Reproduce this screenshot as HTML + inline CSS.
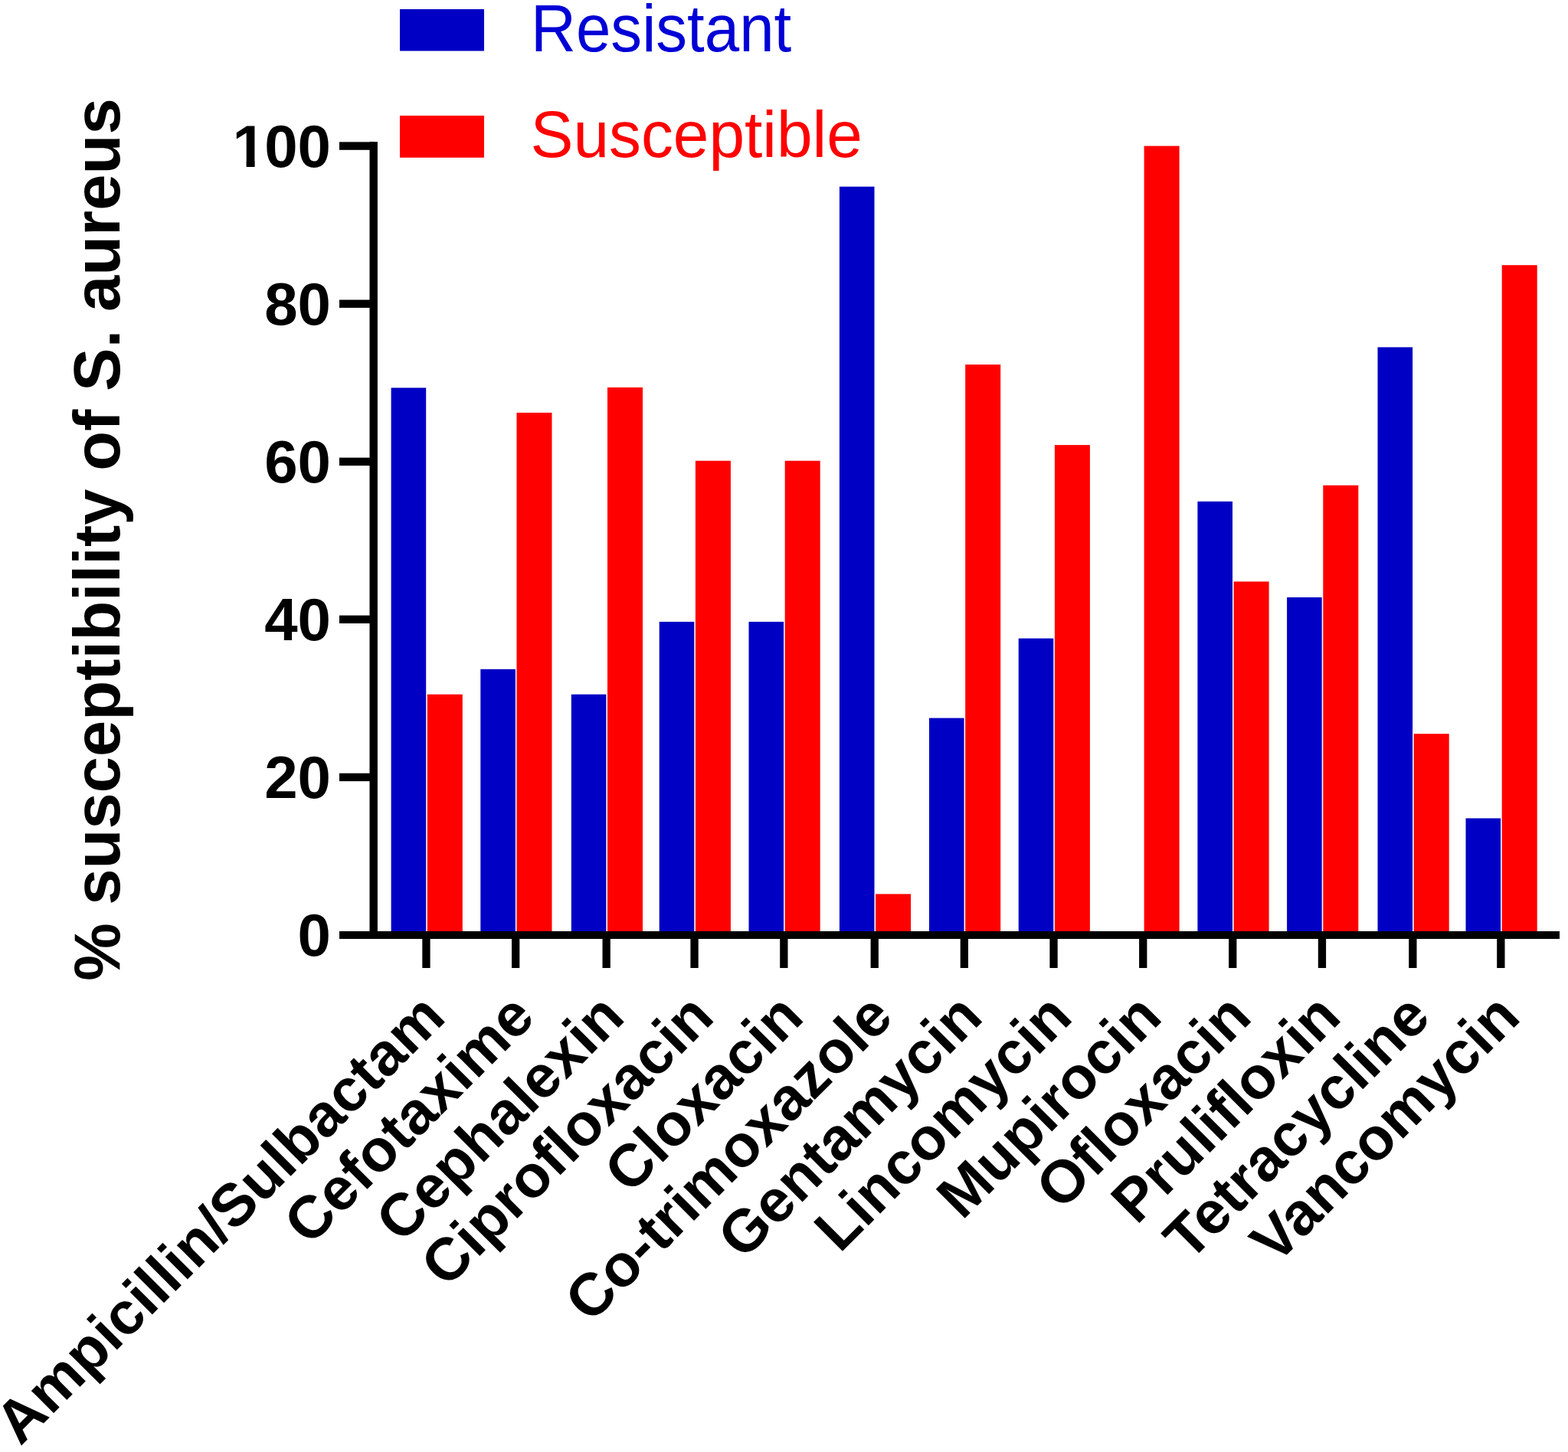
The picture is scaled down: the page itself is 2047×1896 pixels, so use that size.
<!DOCTYPE html>
<html><head><meta charset="utf-8"><style>
html,body{margin:0;padding:0;background:#fff;}
body{width:2047px;height:1896px;overflow:hidden;}
svg{display:block;}
text{font-family:"Liberation Sans",Arial,sans-serif;}
.b{font-weight:bold;}
</style></head><body>
<svg width="2047" height="1896" viewBox="0 0 2047 1896">
<rect width="2047" height="1896" fill="#fff"/>
<rect x="522" y="12" width="110" height="54.5" fill="#0000C4"/>
<rect x="522" y="151" width="110" height="54.8" fill="#FF0000"/>
<text x="693" y="66.6" font-size="86.5" textLength="340.2" lengthAdjust="spacingAndGlyphs" fill="#0000D6">Resistant</text>
<text x="692.5" y="205.4" font-size="86" textLength="433.3" lengthAdjust="spacingAndGlyphs" fill="#FF0000">Susceptible</text>
<rect x="510.6" y="506.4" width="45.6" height="710.6" fill="#0000C4"/>
<rect x="557.8" y="906.7" width="46.0" height="310.3" fill="#FF0000"/>
<rect x="627.3" y="873.8" width="45.6" height="343.2" fill="#0000C4"/>
<rect x="674.5" y="538.9" width="46.0" height="678.1" fill="#FF0000"/>
<rect x="745.8" y="906.7" width="45.6" height="310.3" fill="#0000C4"/>
<rect x="793.0" y="505.9" width="46.0" height="711.1" fill="#FF0000"/>
<rect x="860.7" y="811.9" width="45.6" height="405.1" fill="#0000C4"/>
<rect x="907.9" y="601.7" width="46.0" height="615.3" fill="#FF0000"/>
<rect x="977.5" y="811.9" width="45.6" height="405.1" fill="#0000C4"/>
<rect x="1024.7" y="601.7" width="46.0" height="615.3" fill="#FF0000"/>
<rect x="1095.9" y="243.7" width="45.6" height="973.3" fill="#0000C4"/>
<rect x="1143.1" y="1167.4" width="46.0" height="49.6" fill="#FF0000"/>
<rect x="1213.0" y="937.6" width="45.6" height="279.4" fill="#0000C4"/>
<rect x="1260.2" y="476.0" width="46.0" height="741.0" fill="#FF0000"/>
<rect x="1329.7" y="833.6" width="45.6" height="383.4" fill="#0000C4"/>
<rect x="1376.9" y="581.1" width="46.0" height="635.9" fill="#FF0000"/>
<rect x="1493.6" y="190.6" width="46.0" height="1026.4" fill="#FF0000"/>
<rect x="1563.4" y="654.8" width="45.6" height="562.2" fill="#0000C4"/>
<rect x="1610.6" y="759.4" width="46.0" height="457.6" fill="#FF0000"/>
<rect x="1680.1" y="780.0" width="45.6" height="437.0" fill="#0000C4"/>
<rect x="1727.3" y="633.7" width="46.0" height="583.3" fill="#FF0000"/>
<rect x="1798.5" y="453.4" width="45.6" height="763.6" fill="#0000C4"/>
<rect x="1845.7" y="958.2" width="46.0" height="258.8" fill="#FF0000"/>
<rect x="1913.5" y="1068.5" width="45.6" height="148.5" fill="#0000C4"/>
<rect x="1960.7" y="346.2" width="46.0" height="870.8" fill="#FF0000"/>
<rect x="482.5" y="185.2" width="10.4" height="1040.8" fill="#000"/>
<rect x="482.5" y="1216" width="1553.5" height="10" fill="#000"/>
<rect x="443" y="1009.7" width="45" height="10.4" fill="#000"/>
<rect x="443" y="803.6" width="45" height="10.4" fill="#000"/>
<rect x="443" y="597.6" width="45" height="10.4" fill="#000"/>
<rect x="443" y="391.5" width="45" height="10.4" fill="#000"/>
<rect x="443" y="185.4" width="45" height="10.4" fill="#000"/>
<rect x="443" y="1216" width="45" height="10" fill="#000"/>
<rect x="551.3" y="1220" width="10.3" height="44" fill="#000"/>
<rect x="668.0" y="1220" width="10.3" height="44" fill="#000"/>
<rect x="786.5" y="1220" width="10.3" height="44" fill="#000"/>
<rect x="901.4" y="1220" width="10.3" height="44" fill="#000"/>
<rect x="1018.2" y="1220" width="10.3" height="44" fill="#000"/>
<rect x="1136.6" y="1220" width="10.3" height="44" fill="#000"/>
<rect x="1253.7" y="1220" width="10.3" height="44" fill="#000"/>
<rect x="1370.4" y="1220" width="10.3" height="44" fill="#000"/>
<rect x="1487.1" y="1220" width="10.3" height="44" fill="#000"/>
<rect x="1604.1" y="1220" width="10.3" height="44" fill="#000"/>
<rect x="1720.8" y="1220" width="10.3" height="44" fill="#000"/>
<rect x="1839.2" y="1220" width="10.3" height="44" fill="#000"/>
<rect x="1954.2" y="1220" width="10.3" height="44" fill="#000"/>
<g class="b" font-size="78" fill="#000">
<text x="432" y="1248.0" text-anchor="end">0</text>
<text x="432" y="1041.9" text-anchor="end">20</text>
<text x="432" y="835.8" text-anchor="end">40</text>
<text x="432" y="629.8" text-anchor="end">60</text>
<text x="432" y="423.7" text-anchor="end">80</text>
<text y="217.6"><tspan x="303.6">1</tspan><tspan x="345.24">00</tspan></text>
</g>
<rect x="305" y="209.6" width="16.6" height="11" fill="#fff"/>
<rect x="332.6" y="209.6" width="13.2" height="11" fill="#fff"/>
<text class="b" x="0" y="0" font-size="85" fill="#000" text-anchor="middle" transform="translate(155.8 704.6) rotate(-90)">% susceptibility of S. aureus</text>
<g class="b" font-size="78" fill="#000">
<text x="584.2" y="1331.1" text-anchor="end" transform="rotate(-45 584.2 1331.1)">Ampicillin/Sulbactam</text>
<text x="701.1" y="1331.1" text-anchor="end" transform="rotate(-45 701.1 1331.1)">Cefotaxime</text>
<text x="818.1" y="1331.1" text-anchor="end" transform="rotate(-45 818.1 1331.1)">Cephalexin</text>
<text x="935.0" y="1331.1" text-anchor="end" transform="rotate(-45 935.0 1331.1)">Ciprofloxacin</text>
<text x="1051.9" y="1331.1" text-anchor="end" transform="rotate(-45 1051.9 1331.1)">Cloxacin</text>
<text x="1168.9" y="1331.1" text-anchor="end" transform="rotate(-45 1168.9 1331.1)">Co-trimoxazole</text>
<text x="1285.8" y="1331.1" text-anchor="end" transform="rotate(-45 1285.8 1331.1)">Gentamycin</text>
<text x="1402.7" y="1331.1" text-anchor="end" transform="rotate(-45 1402.7 1331.1)">Lincomycin</text>
<text x="1519.6" y="1331.1" text-anchor="end" transform="rotate(-45 1519.6 1331.1)">Mupirocin</text>
<text x="1636.6" y="1331.1" text-anchor="end" transform="rotate(-45 1636.6 1331.1)">Ofloxacin</text>
<text x="1753.5" y="1331.1" text-anchor="end" transform="rotate(-45 1753.5 1331.1)">Prulifloxin</text>
<text x="1870.4" y="1331.1" text-anchor="end" transform="rotate(-45 1870.4 1331.1)">Tetracycline</text>
<text x="1987.4" y="1331.1" text-anchor="end" transform="rotate(-45 1987.4 1331.1)">Vancomycin</text>
</g>
</svg>
</body></html>
